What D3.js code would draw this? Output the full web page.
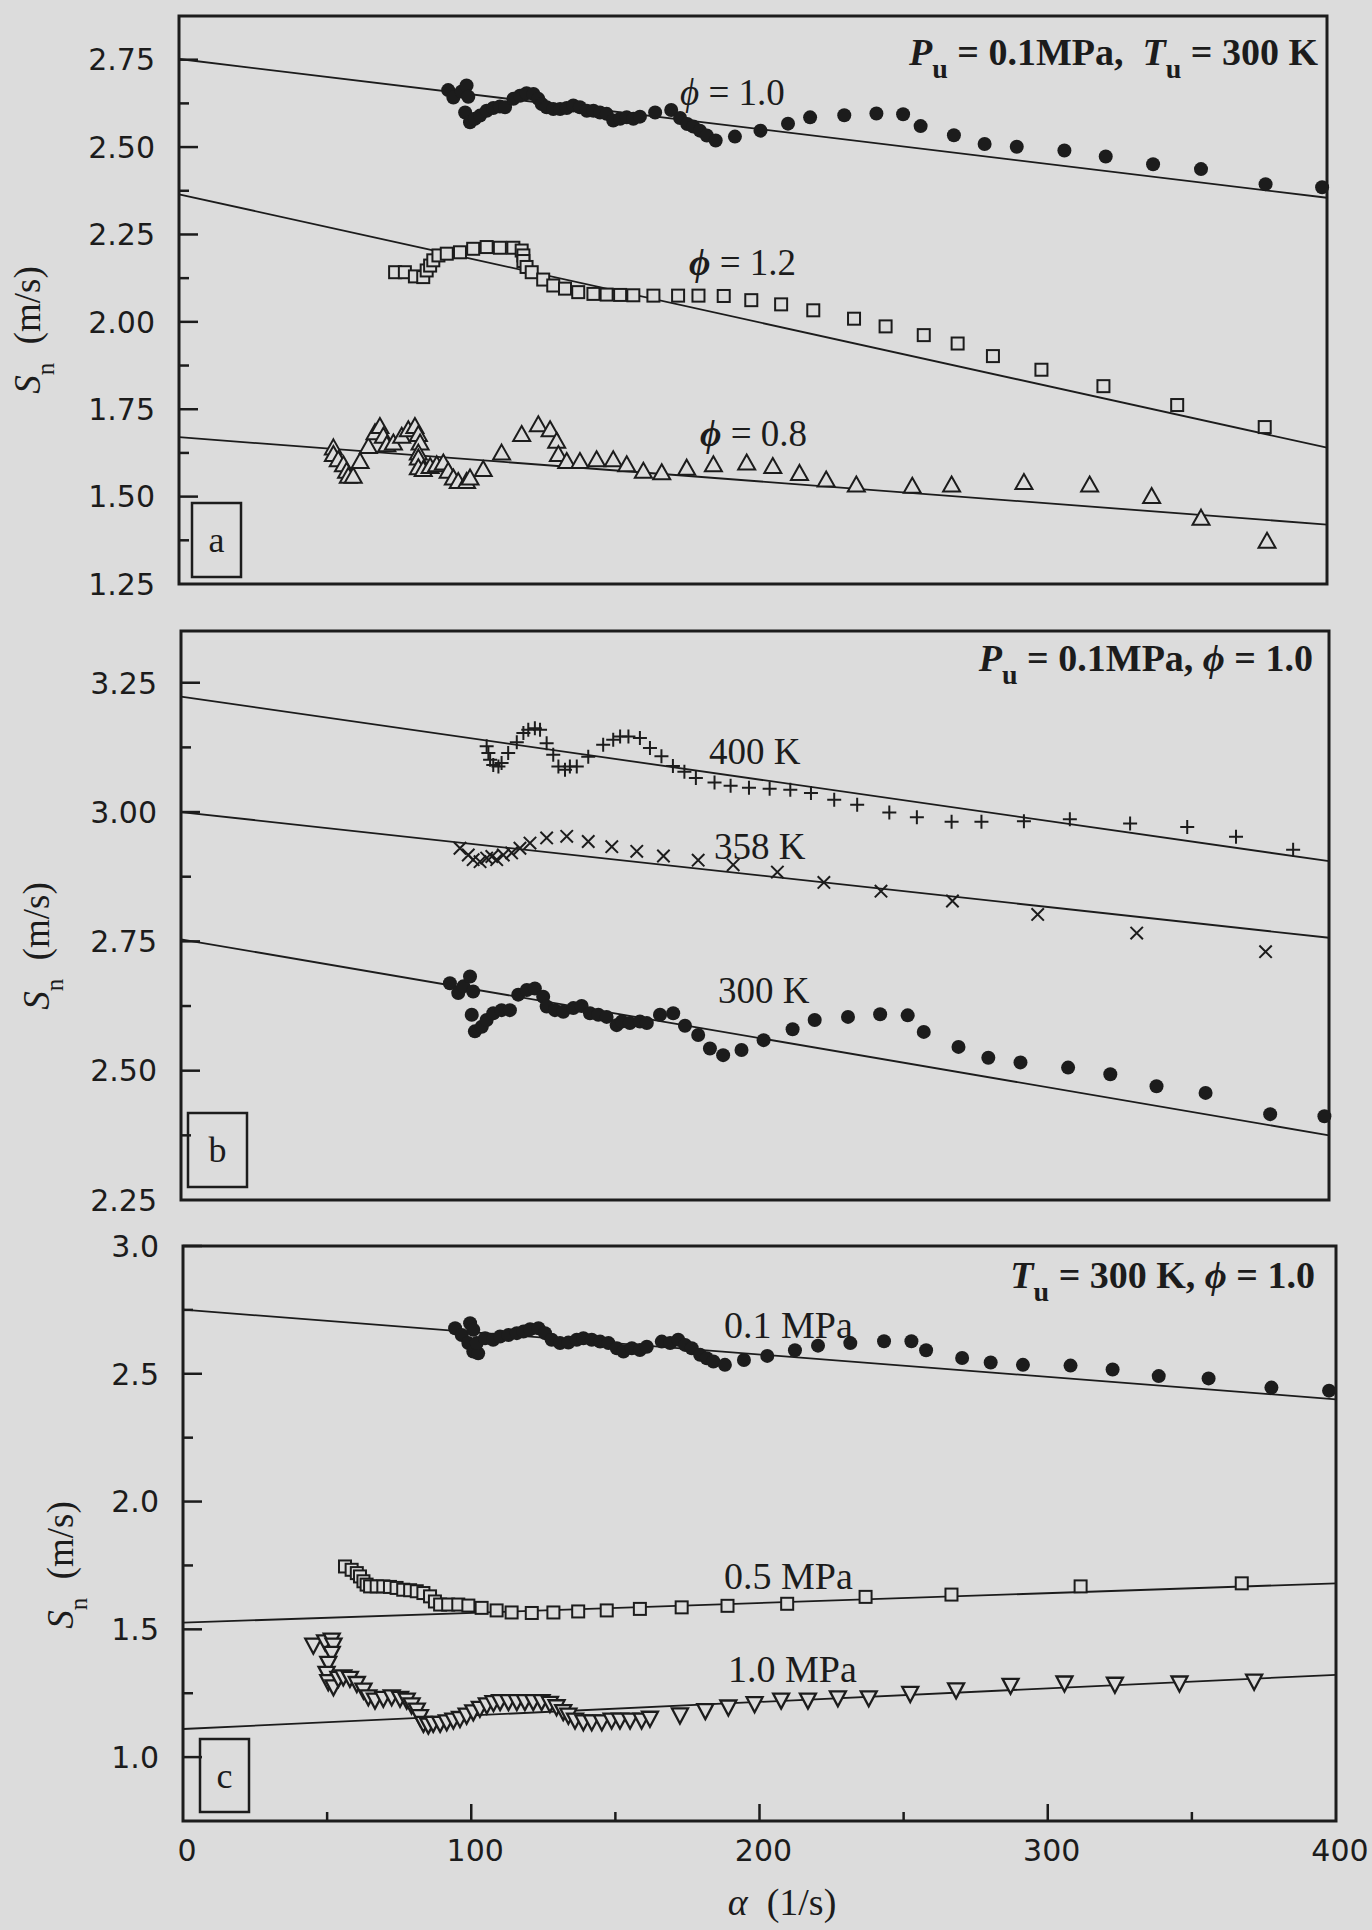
<!DOCTYPE html>
<html>
<head>
<meta charset="utf-8">
<script src="https://cdn.jsdelivr.net/npm/d3@7"></script>
<style>
  body { margin: 0; background: #dcdcdc; }
  svg { display: block; }
</style>
</head>
<body>
<script>
"use strict";

// ---- data: [alpha (1/s), Sn (m/s)] ----

// panel a : Pu = 0.1 MPa, Tu = 300 K
var a_phi10 = [[93.8,2.663],[95.6,2.642],[98.5,2.659],[100.2,2.676],[100.8,2.644],
  [99.7,2.599],[101.4,2.571],[103.1,2.581],[104.9,2.590],[107.2,2.604],[109.5,2.612],[111.8,2.616],
  [113.6,2.614],[116.5,2.638],[118.8,2.647],[121.1,2.654],[123.5,2.652],[125.2,2.638],[126.4,2.623],
  [128.1,2.614],[130.4,2.609],[132.8,2.609],[135.1,2.612],[137.4,2.619],[139.7,2.614],[142.1,2.604],
  [144.4,2.604],[146.7,2.599],[149.0,2.595],[151.3,2.576],[153.7,2.581],[156.0,2.585],[158.3,2.581],
  [160.6,2.587],[165.9,2.599],[171.5,2.606],[174.6,2.583],[177.1,2.566],[179.2,2.559],[181.5,2.547],
  [183.9,2.533],[187.0,2.519],[193.7,2.530],[202.6,2.547],[212.2,2.567],[219.9,2.585],[231.8,2.591],
  [243.0,2.596],[252.3,2.594],[258.4,2.560],[270.0,2.534],[280.7,2.509],[291.9,2.501],[308.5,2.490],
  [322.9,2.473],[339.4,2.451],[356.1,2.437],[378.6,2.394],[398.3,2.385]];

var a_phi12 = [[75.3,2.142],[78.7,2.142],[82.2,2.130],[85.1,2.128],[86.3,2.147],[87.5,2.161],
  [88.6,2.176],[90.4,2.190],[93.3,2.195],[97.9,2.199],[102.5,2.209],[107.2,2.214],[111.8,2.212],
  [116.5,2.212],[119.4,2.204],[120.0,2.190],[120.0,2.174],[121.1,2.157],[122.9,2.142],[126.9,2.121],
  [130.4,2.104],[134.5,2.095],[139.1,2.085],[144.4,2.080],[149.0,2.078],[153.7,2.077],[158.3,2.076],
  [165.3,2.075],[173.9,2.075],[181.0,2.075],[189.8,2.074],[199.4,2.062],[209.8,2.050],[221.0,2.033],
  [235.2,2.009],[246.2,1.987],[259.5,1.962],[271.3,1.938],[283.6,1.902],[300.5,1.863],[322.1,1.816],
  [347.8,1.762],[378.3,1.699]];

var a_phi08 = [[53.8,1.638],[53.8,1.619],[55.5,1.604],[57.3,1.590],[58.4,1.571],[59.0,1.557],
  [60.7,1.557],[63.1,1.599],[66.0,1.642],[68.3,1.681],[70.0,1.699],[71.2,1.671],[72.4,1.647],
  [74.7,1.652],[77.6,1.671],[79.9,1.690],[82.2,1.699],[83.4,1.676],[84.0,1.652],[83.4,1.623],
  [83.4,1.609],[83.4,1.581],[85.1,1.576],[87.5,1.585],[89.8,1.590],[92.1,1.595],[93.8,1.571],
  [95.6,1.552],[97.3,1.542],[100.2,1.542],[101.4,1.552],[106.0,1.576],[112.4,1.623],[119.4,1.676],
  [125.2,1.704],[129.3,1.690],[131.6,1.657],[132.2,1.619],[135.1,1.599],[139.7,1.599],[145.5,1.604],
  [151.3,1.604],[156.0,1.590],[161.8,1.571],[168.2,1.567],[176.9,1.580],[186.2,1.590],[197.8,1.595],
  [206.9,1.585],[216.2,1.565],[225.5,1.546],[236.0,1.532],[255.5,1.528],[269.2,1.532],[294.4,1.539],
  [317.3,1.532],[338.9,1.499],[356.1,1.437],[379.1,1.371]];

// panel b : Pu = 0.1 MPa, phi = 1.0
var b_400 = [[106.5,3.127],[107.1,3.114],[107.7,3.101],[108.8,3.091],[110.6,3.088],[111.7,3.095],
  [114.0,3.114],[117.0,3.135],[119.3,3.153],[121.0,3.159],[123.3,3.162],[125.1,3.159],[127.4,3.133],
  [129.7,3.111],[131.5,3.088],[133.8,3.082],[135.5,3.088],[137.9,3.088],[141.9,3.107],[147.1,3.130],
  [150.6,3.140],[153.0,3.146],[155.9,3.146],[159.9,3.143],[163.4,3.124],[167.4,3.108],[171.4,3.089],
  [175.4,3.078],[179.4,3.066],[185.9,3.057],[191.5,3.051],[197.9,3.047],[205.1,3.045],[212.3,3.043],
  [219.5,3.037],[227.6,3.024],[235.6,3.014],[246.8,2.999],[256.4,2.990],[268.5,2.981],[278.9,2.981],
  [293.7,2.982],[309.7,2.986],[330.7,2.978],[350.6,2.971],[367.6,2.952],[387.5,2.927]];

var b_358 = [[97.2,2.930],[100.1,2.917],[101.8,2.908],[104.2,2.904],[106.5,2.911],[108.3,2.914],
  [110.0,2.908],[112.3,2.917],[115.2,2.921],[118.1,2.930],[121.6,2.940],[127.4,2.950],[134.4,2.953],
  [141.9,2.943],[150.1,2.933],[158.8,2.924],[168.1,2.915],[180.2,2.907],[192.4,2.898],[207.8,2.884],
  [224.0,2.864],[243.9,2.847],[268.8,2.828],[298.5,2.802],[333.0,2.766],[377.9,2.730]];

var b_300 = [[93.7,2.669],[96.6,2.650],[98.4,2.663],[100.7,2.682],[101.8,2.653],[101.3,2.608],
  [102.4,2.576],[104.8,2.585],[106.5,2.598],[108.8,2.611],[111.7,2.617],[114.6,2.617],[117.5,2.647],
  [120.5,2.656],[123.3,2.659],[126.2,2.643],[127.4,2.624],[130.3,2.617],[133.2,2.614],[136.7,2.621],
  [139.6,2.625],[142.5,2.611],[145.4,2.608],[148.3,2.604],[151.8,2.588],[153.6,2.595],[156.4,2.592],
  [159.9,2.595],[162.3,2.592],[166.9,2.608],[171.5,2.611],[175.6,2.587],[180.2,2.569],[184.3,2.543],
  [188.9,2.530],[195.3,2.540],[203.0,2.559],[213.1,2.580],[220.8,2.598],[232.4,2.604],[243.6,2.609],
  [253.2,2.607],[258.8,2.575],[270.9,2.546],[281.3,2.525],[292.5,2.516],[309.1,2.506],[323.8,2.493],
  [339.9,2.470],[357.0,2.457],[379.5,2.416],[398.4,2.412]];

// panel c : Tu = 300 K, phi = 1.0
var c_01 = [[94.4,2.678],[96.7,2.652],[99.6,2.698],[100.7,2.672],[99.0,2.620],[100.7,2.587],
  [102.4,2.580],[101.9,2.620],[104.8,2.639],[107.6,2.633],[110.0,2.646],[112.9,2.652],[115.8,2.659],
  [118.1,2.665],[120.4,2.674],[123.3,2.678],[125.6,2.659],[127.9,2.633],[130.8,2.620],[133.7,2.622],
  [136.6,2.633],[138.9,2.639],[141.8,2.633],[144.7,2.626],[147.6,2.620],[150.5,2.600],[152.8,2.587],
  [155.7,2.600],[158.5,2.593],[160.9,2.606],[166.1,2.626],[169.0,2.620],[171.8,2.633],[174.2,2.613],
  [176.5,2.600],[179.4,2.574],[181.7,2.561],[184.0,2.548],[188.0,2.535],[194.6,2.554],[202.7,2.570],
  [212.3,2.592],[220.3,2.610],[231.5,2.620],[243.2,2.627],[252.7,2.627],[257.8,2.592],[270.3,2.562],
  [280.2,2.544],[291.4,2.535],[307.9,2.532],[322.5,2.517],[338.5,2.491],[355.8,2.482],[377.6,2.446],
  [397.6,2.434]];

var c_05 = [[56.2,1.746],[58.5,1.733],[60.3,1.720],[61.4,1.707],[62.6,1.688],[63.7,1.675],
  [64.9,1.668],[67.2,1.668],[69.5,1.668],[71.8,1.666],[74.1,1.662],[76.4,1.655],[78.8,1.653],
  [81.1,1.649],[83.4,1.642],[85.7,1.629],[87.4,1.609],[89.2,1.597],[92.0,1.597],[95.5,1.597],
  [99.0,1.593],[103.6,1.584],[108.8,1.574],[114.0,1.566],[121.0,1.564],[128.5,1.566],[137.1,1.570],
  [147.0,1.574],[158.5,1.580],[173.0,1.586],[188.9,1.592],[209.6,1.600],[236.8,1.627],[266.6,1.636],
  [311.4,1.668],[367.3,1.680]];

var c_10 = [[45.2,1.440],[49.3,1.453],[51.6,1.460],[52.2,1.440],[51.6,1.408],[50.4,1.369],
  [49.8,1.330],[50.4,1.297],[52.2,1.277],[53.9,1.310],[55.6,1.316],[57.9,1.310],[60.3,1.290],
  [62.6,1.264],[64.3,1.238],[66.6,1.225],[69.5,1.232],[72.4,1.238],[75.3,1.232],[77.6,1.225],
  [79.3,1.206],[81.1,1.186],[82.2,1.160],[83.4,1.134],[85.1,1.127],[86.8,1.134],[89.2,1.134],
  [91.5,1.140],[93.8,1.147],[96.1,1.153],[98.4,1.166],[100.7,1.179],[103.0,1.193],[105.4,1.206],
  [107.7,1.215],[110.0,1.219],[112.9,1.219],[115.8,1.219],[118.6,1.219],[121.5,1.219],[124.4,1.219],
  [127.3,1.212],[129.6,1.199],[131.9,1.180],[133.7,1.166],[136.0,1.147],[138.9,1.140],[141.8,1.140],
  [145.3,1.140],[148.7,1.147],[151.6,1.147],[155.1,1.147],[159.1,1.147],[162.0,1.154],[172.4,1.167],
  [181.2,1.184],[189.2,1.198],[198.3,1.211],[207.5,1.225],[216.8,1.225],[227.2,1.234],[237.9,1.234],
  [252.3,1.251],[268.2,1.265],[287.1,1.283],[305.8,1.292],[323.3,1.287],[345.7,1.292],[371.6,1.299]];

// straight fits: Sn at alpha = 0 and alpha = 400
var fitAlpha = [0, 400];
var a_fit10 = [2.752, 2.355], a_fit12 = [2.365, 1.640], a_fit08 = [1.670, 1.420];
var b_fit400 = [3.223, 2.905], b_fit358 = [3.000, 2.757], b_fit300 = [2.754, 2.375];
var c_fit01 = [2.751, 2.400], c_fit05 = [1.526, 1.680], c_fit10 = [1.110, 1.322];

// ticks
var a_major = [1.5, 1.75, 2.0, 2.25, 2.5, 2.75];
var a_minor = [1.375, 1.625, 1.875, 2.125, 2.375, 2.625];
var b_major = [2.5, 2.75, 3.0, 3.25];
var b_minor = [2.375, 2.625, 2.875, 3.125];
var c_major = [1.0, 1.5, 2.0, 2.5, 3.0];
var c_minor = [1.25, 1.75, 2.25, 2.75];
var a_labels = [1.25, 1.5, 1.75, 2.0, 2.25, 2.5, 2.75];
var b_labels = [2.25, 2.5, 2.75, 3.0, 3.25];
var c_labels = [1.0, 1.5, 2.0, 2.5, 3.0];
var x_major = [100, 200, 300];
var x_minor = [50, 150, 250, 350];
var x_labels = [0, 100, 200, 300, 400];

// ---- drawing ----
var ink = "#1c1c1c", paper = "#dcdcdc";
var serif = "'Liberation Serif','Times New Roman',serif";
var sans = "'DejaVu Sans',sans-serif";

var svg = d3.select("body").append("svg")
  .attr("width", 1372).attr("height", 1930);

svg.append("rect").attr("width", 1372).attr("height", 1930).attr("fill", paper);

// mixed-style text; parts: {t, i, b, sub}
function richText(g, x, y, parts, size, anchor) {
  var t = g.append("text")
    .attr("x", x).attr("y", y)
    .attr("text-anchor", anchor || "start")
    .attr("fill", ink)
    .style("font-family", serif)
    .style("font-size", size + "px")
    .style("white-space", "pre");
  var shift = 0;
  parts.forEach(function(p) {
    var s = t.append("tspan").text(p.t);
    if (p.i) s.style("font-style", "italic");
    if (p.b) s.style("font-weight", "bold");
    var want = p.sub ? p.sub[0] : 0;
    if (want !== shift) { s.attr("dy", want - shift); shift = want; }
    if (p.sub) s.style("font-size", p.sub[1] + "px");
  });
  return t;
}

var markers = {
  tri: "M0,-9L8.5,6L-8.5,6Z",
  tridown: "M0,9L8,-6L-8,-6Z",
  plus: "M-7,0H7M0,-7V7",
  cross: "M-6.2,-6.2L6.2,6.2M-6.2,6.2L6.2,-6.2"
};

function drawSeries(g, data, x, y, kind) {
  var sel = g.append("g").selectAll("g").data(data).enter();
  if (kind === "dot") {
    sel.append("circle")
      .attr("cx", function(d) { return x(d[0]); })
      .attr("cy", function(d) { return y(d[1]); })
      .attr("r", 7).attr("fill", ink);
  } else if (kind === "sq") {
    sel.append("rect")
      .attr("x", function(d) { return x(d[0]) - 6; })
      .attr("y", function(d) { return y(d[1]) - 6; })
      .attr("width", 12).attr("height", 12)
      .attr("fill", paper).attr("stroke", ink).attr("stroke-width", 2);
  } else {
    var open = (kind === "tri" || kind === "tridown");
    sel.append("path")
      .attr("d", markers[kind])
      .attr("transform", function(d) { return "translate(" + x(d[0]) + "," + y(d[1]) + ")"; })
      .attr("fill", open ? paper : "none")
      .attr("stroke", ink).attr("stroke-width", kind === "tridown" ? 2.3 : 2);
  }
}

function panel(p) {
  var g = svg.append("g");
  var x = d3.scaleLinear().domain([0, 400]).range([p.x0, p.x1]);
  var y = d3.scaleLinear().domain(p.ydom).range([p.bottom, p.top]);

  // fit lines
  var line = d3.line()
    .x(function(d) { return x(d[0]); })
    .y(function(d) { return y(d[1]); });
  p.fits.forEach(function(f) {
    g.append("path")
      .datum(fitAlpha.map(function(a, i) { return [a, f[i]]; }))
      .attr("d", line).attr("fill", "none")
      .attr("stroke", ink).attr("stroke-width", 1.8);
  });

  // data
  p.series.forEach(function(s) { drawSeries(g, s[0], x, y, s[1]); });

  // frame
  g.append("rect")
    .attr("x", p.x0).attr("y", p.top)
    .attr("width", p.x1 - p.x0).attr("height", p.bottom - p.top)
    .attr("fill", "none").attr("stroke", ink).attr("stroke-width", 3);

  // y ticks (inward)
  g.selectAll(".ymaj").data(p.major).enter().append("line")
    .attr("x1", p.x0).attr("x2", p.x0 + 19)
    .attr("y1", y).attr("y2", y)
    .attr("stroke", ink).attr("stroke-width", 2.5);
  g.selectAll(".ymin").data(p.minor).enter().append("line")
    .attr("x1", p.x0).attr("x2", p.x0 + 10)
    .attr("y1", y).attr("y2", y)
    .attr("stroke", ink).attr("stroke-width", 2.5);

  g.selectAll(".ylab").data(p.labels).enter().append("text")
    .attr("x", p.x0 - 24)
    .attr("y", y)
    .attr("dy", "0.36em")
    .attr("text-anchor", "end")
    .attr("fill", ink)
    .style("font-family", sans).style("font-size", "30px")
    .text(p.fmt);

  // y title
  var tg = g.append("g").attr("transform", "translate(" + p.titleX + "," + p.titleY + ") rotate(-90)");
  richText(tg, 0, 0, [
    { t: "S", i: true },
    { t: "n", sub: [14, 25] },
    { t: "  (m/s)" }
  ], 37, "middle");

  // panel letter box
  g.append("rect")
    .attr("x", p.box[0]).attr("y", p.box[1])
    .attr("width", p.box[2]).attr("height", p.box[3])
    .attr("fill", "none").attr("stroke", ink).attr("stroke-width", 2.5);
  g.append("text")
    .attr("x", p.box[0] + p.box[2] / 2).attr("y", p.box[1] + p.box[3] / 2 + 12)
    .attr("text-anchor", "middle").attr("fill", ink)
    .style("font-family", serif).style("font-size", "36px")
    .text(p.letter);

  // annotations
  p.notes.forEach(function(n) { richText(g, n[0], n[1], n[2], n[3], n[4]); });

  // x axis (bottom panel only)
  if (p.xaxis) {
    g.selectAll(".xmaj").data(x_major).enter().append("line")
      .attr("x1", x).attr("x2", x)
      .attr("y1", p.bottom).attr("y2", p.bottom - 17)
      .attr("stroke", ink).attr("stroke-width", 2.5);
    g.selectAll(".xmin").data(x_minor).enter().append("line")
      .attr("x1", x).attr("x2", x)
      .attr("y1", p.bottom).attr("y2", p.bottom - 9)
      .attr("stroke", ink).attr("stroke-width", 2.5);
    g.selectAll(".xlab").data(x_labels).enter().append("text")
      .attr("x", function(d) { return x(d) + 4; })
      .attr("y", 1861)
      .attr("text-anchor", "middle").attr("fill", ink)
      .style("font-family", sans).style("font-size", "30px")
      .text(function(d) { return d; });
    richText(g, 782, 1915, [
      { t: "\u03b1", i: true },
      { t: "  (1/s)" }
    ], 38, "middle");
  }
}

var PHI = "\u03d5";

panel({
  x0: 179, x1: 1327, top: 16, bottom: 584, ydom: [1.25, 2.875],
  major: a_major, minor: a_minor, labels: a_labels, fmt: d3.format(".2f"),
  fits: [a_fit10, a_fit12, a_fit08],
  series: [[a_phi08, "tri"], [a_phi12, "sq"], [a_phi10, "dot"]],
  titleX: 40, titleY: 330,
  box: [192, 503, 49, 74], letter: "a",
  notes: [
    [1318, 65, [
      { t: "P", i: true, b: true }, { t: "u", b: true, sub: [13, 28] },
      { t: " = 0.1MPa,  ", b: true },
      { t: "T", i: true, b: true }, { t: "u", b: true, sub: [13, 28] },
      { t: " = 300 K", b: true }], 38, "end"],
    [680, 105, [{ t: PHI, i: true }, { t: " = 1.0" }], 37],
    [689, 275, [{ t: PHI, i: true, b: true }, { t: " = 1.2" }], 37],
    [700, 446, [{ t: PHI, i: true, b: true }, { t: " = 0.8" }], 37]
  ]
});

panel({
  x0: 181, x1: 1329, top: 631, bottom: 1200, ydom: [2.25, 3.35],
  major: b_major, minor: b_minor, labels: b_labels, fmt: d3.format(".2f"),
  fits: [b_fit400, b_fit358, b_fit300],
  series: [[b_400, "plus"], [b_358, "cross"], [b_300, "dot"]],
  titleX: 49, titleY: 946,
  box: [188, 1113, 59, 74], letter: "b",
  notes: [
    [1313, 671, [
      { t: "P", i: true, b: true }, { t: "u", b: true, sub: [13, 28] },
      { t: " = 0.1MPa, ", b: true },
      { t: PHI, i: true, b: true },
      { t: " = 1.0", b: true }], 38, "end"],
    [709, 764, [{ t: "400 K" }], 37],
    [714, 859, [{ t: "358 K" }], 37],
    [718, 1003, [{ t: "300 K" }], 37]
  ]
});

panel({
  x0: 183, x1: 1336, top: 1246, bottom: 1821, ydom: [0.75, 3.0],
  major: c_major, minor: c_minor, labels: c_labels, fmt: d3.format(".1f"),
  fits: [c_fit01, c_fit05, c_fit10],
  series: [[c_10, "tridown"], [c_05, "sq"], [c_01, "dot"]],
  titleX: 73, titleY: 1565,
  box: [200, 1739, 49, 73], letter: "c", xaxis: true,
  notes: [
    [1315, 1288, [
      { t: "T", i: true, b: true }, { t: "u", b: true, sub: [13, 28] },
      { t: " = 300 K, ", b: true },
      { t: PHI, i: true, b: true },
      { t: " = 1.0", b: true }], 38, "end"],
    [724, 1338, [{ t: "0.1 MPa" }], 38],
    [724, 1589, [{ t: "0.5 MPa" }], 38],
    [728, 1682, [{ t: "1.0 MPa" }], 38]
  ]
});
</script>
</body>
</html>
